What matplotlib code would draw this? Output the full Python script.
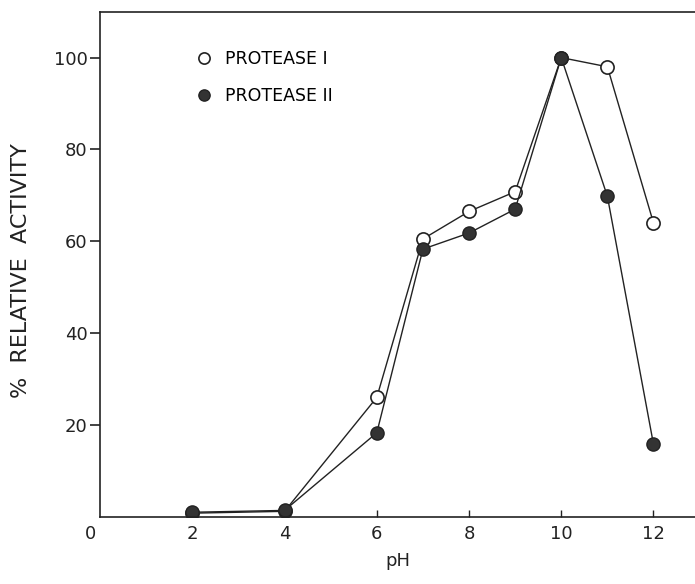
import numpy as np
import matplotlib.pyplot as plt
import matplotlib.transforms as mtransforms

# pH profile of the two proteases
ph = [2, 4, 6, 7, 8, 9, 10, 11, 12]
protease_1 = [0.8, 1.2, 26, 60.5, 66.5, 70.8, 100, 98, 64]
protease_2 = [1.0, 1.4, 18.3, 58.3, 61.8, 67, 100, 69.8, 15.8]

x_ticks = [0, 2, 4, 6, 8, 10, 12]
x_ticklabels = ['0', '2', '4', '6', '8', '10', '12']
y_ticks = [20, 40, 60, 80, 100]

plt.rcParams['font.family'] = ['DejaVu Sans']

fig = plt.figure(figsize=(6.95, 5.84), dpi=100)
ax = fig.add_axes([0.144, 0.115, 0.856, 0.865])

ax.plot(ph, protease_1, color='#222222', lw=1.0, marker='o', ms=9.5,
        mfc='white', mec='#222222', mew=1.2, label='PROTEASE I')
ax.plot(ph, protease_2, color='#222222', lw=1.0, marker='o', ms=9.5,
        mfc='#333333', mec='#222222', mew=1.0, label='PROTEASE II')

ax.set_xlim(0, 12.9)
ax.set_ylim(0, 110)

ax.spines['right'].set_visible(False)
for s in ['left', 'bottom', 'top']:
    ax.spines[s].set_linewidth(1.2)
    ax.spines[s].set_color('#222222')

ax.set_xticks(x_ticks)
ax.set_xticklabels(x_ticklabels)
ax.set_yticks(y_ticks)
ax.tick_params(axis='x', direction='in', length=5, width=1, labelsize=13,
               pad=6, colors='#222222')
ax.tick_params(axis='y', direction='out', length=7, width=1.2, labelsize=13,
               pad=2, colors='#222222')
ax.xaxis.get_major_ticks()[0].tick1line.set_visible(False)
# the origin "0" sits a little left of the axis corner
zero = ax.get_xticklabels()[0]
zero.set_transform(zero.get_transform() +
                   mtransforms.ScaledTranslation(-10 / 100, 0, fig.dpi_scale_trans))

ax.set_xlabel('pH', fontsize=13, labelpad=6, color='#222222')
ax.set_ylabel('%  RELATIVE  ACTIVITY', fontsize=16, color='#222222')
ax.yaxis.set_label_coords(-0.116, 0.487)

ax.legend(loc='upper left', bbox_to_anchor=(0.14, 0.955), frameon=False,
          handlelength=0.6, handletextpad=0.9, labelspacing=1.1, fontsize=12.5,
          markerscale=0.85)

fig.savefig('out.png', dpi=100)
